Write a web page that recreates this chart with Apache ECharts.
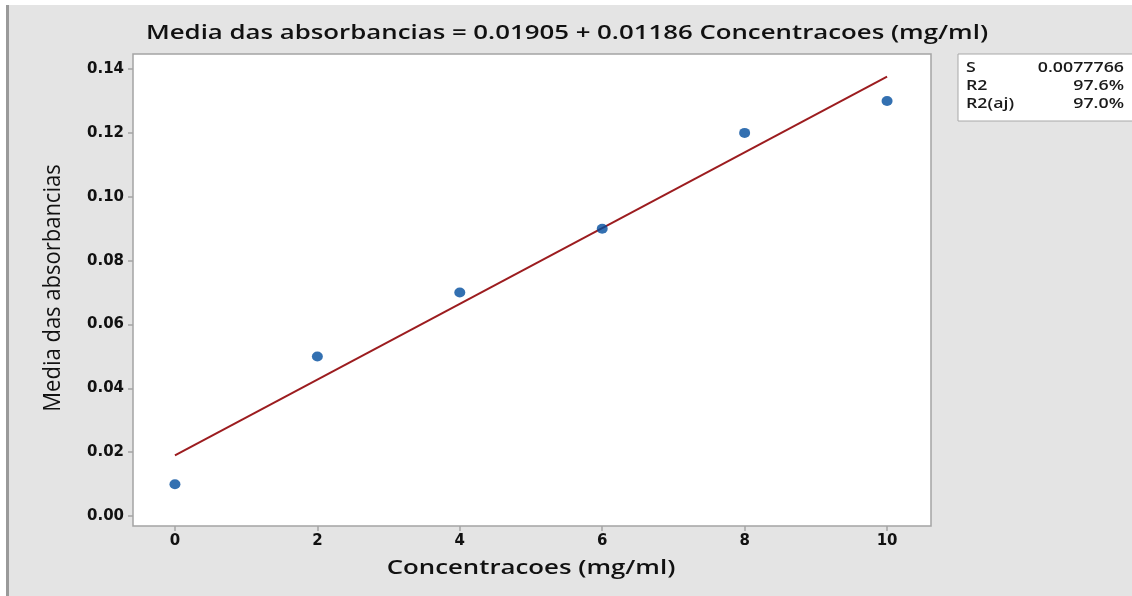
<!DOCTYPE html>
<html><head><meta charset="utf-8">
<script src="https://cdn.jsdelivr.net/npm/echarts@6/dist/echarts.min.js"></script>
<style>html,body{margin:0;padding:0;background:#e4e4e4;}#c{width:1132px;height:596px;}</style>
</head><body><div id="c"></div>
<script>
const concentrations = [0, 2, 4, 6, 8, 10];
const absorbances = [0.01, 0.05, 0.07, 0.09, 0.12, 0.13];
const fitLineX = [0, 10];
const fitLineY = [0.01905, 0.13765];
const xTicks = [0, 2, 4, 6, 8, 10];
const yTicks = [0, 0.02, 0.04, 0.06, 0.08, 0.10, 0.12, 0.14];
const statLabels = ['S', 'R2', 'R2(aj)'];
const statValues = ['0.0077766', '97.6%', '97.0%'];
const titleText = 'Media das absorbancias = 0.01905 + 0.01186 Concentracoes (mg/ml)';
const xName = 'Concentracoes (mg/ml)';
const yName = 'Media das absorbancias';

const FONT = '"Open Sans", "Noto Sans", sans-serif';
const TICKFONT = '"DejaVu Sans", sans-serif';
const chart = echarts.init(document.getElementById('c'));
const statsChildren = [{
  type: 'rect', shape: {x: 958, y: 54, width: 180, height: 67},
  style: {fill: '#ffffff', stroke: '#a8a8a8', lineWidth: 1}
}];
statLabels.forEach((s, i) => {
  statsChildren.push({type: 'text', x: 966, y: 68 + i * 18, scaleX: 1.27,
    style: {text: s, font: '600 14px ' + FONT, fill: '#1a1a1a', textVerticalAlign: 'middle'}});
  statsChildren.push({type: 'text', x: 1124, y: 68 + i * 18, scaleX: 1.27,
    style: {text: statValues[i], font: '600 14px ' + FONT, fill: '#1a1a1a', textAlign: 'right', textVerticalAlign: 'middle'}});
});

chart.setOption({
  backgroundColor: '#e4e4e4',
  animation: false,
  grid: {left: 133, top: 54, width: 798, height: 472, show: true,
    backgroundColor: '#ffffff', borderColor: '#a4a4a4', borderWidth: 1.5},
  xAxis: {
    type: 'value', min: -0.589, max: 10.617,
    axisLine: {show: false, onZero: false}, splitLine: {show: false},
    axisTick: {show: true, length: 5, lineStyle: {color: '#a4a4a4', width: 1.5}, customValues: xTicks},
    axisLabel: {customValues: xTicks, fontFamily: TICKFONT, fontWeight: 'bold', fontSize: 15, color: '#111', margin: 8,
      formatter: v => String(v)}
  },
  yAxis: {
    type: 'value', min: -0.0031, max: 0.1447,
    axisLine: {show: false, onZero: false}, splitLine: {show: false},
    axisTick: {show: true, length: 5, lineStyle: {color: '#a4a4a4', width: 1.5}, customValues: yTicks},
    axisLabel: {customValues: yTicks, fontFamily: TICKFONT, fontWeight: 'bold', fontSize: 15, color: '#111', margin: 9,
      formatter: v => v.toFixed(2)}
  },
  series: [{
    type: 'line', data: fitLineX.map((x, i) => [x, fitLineY[i]]),
    symbol: 'none', lineStyle: {color: '#9c1c1f', width: 2}, z: 2
  }, {
    type: 'scatter', data: concentrations.map((x, i) => [x, absorbances[i]]),
    symbol: 'circle', symbolSize: [11, 10], itemStyle: {color: '#004c9e'}, z: 3
  }],
  graphic: [
    {type: 'rect', shape: {x: 0, y: 0, width: 1132, height: 5}, style: {fill: '#ffffff'}},
    {type: 'rect', shape: {x: 0, y: 0, width: 6, height: 596}, style: {fill: '#ffffff'}},
    {type: 'rect', shape: {x: 6, y: 5, width: 3, height: 591}, style: {fill: '#9a9a9a'}},
    {type: 'text', x: 567, y: 33, scaleX: 1.29,
      style: {text: titleText, font: '600 20px ' + FONT, fill: '#111', textAlign: 'center', textVerticalAlign: 'middle'}},
    {type: 'text', x: 531, y: 568, scaleX: 1.29,
      style: {text: xName, font: '600 20px ' + FONT, fill: '#111', textAlign: 'center', textVerticalAlign: 'middle'}},
    {type: 'text', x: 53, y: 288, rotation: Math.PI / 2, scaleY: 1.08,
      style: {text: yName, font: '400 22px ' + FONT, fill: '#111', textAlign: 'center', textVerticalAlign: 'middle'}},
    {type: 'group', children: statsChildren}
  ]
});
</script></body></html>
